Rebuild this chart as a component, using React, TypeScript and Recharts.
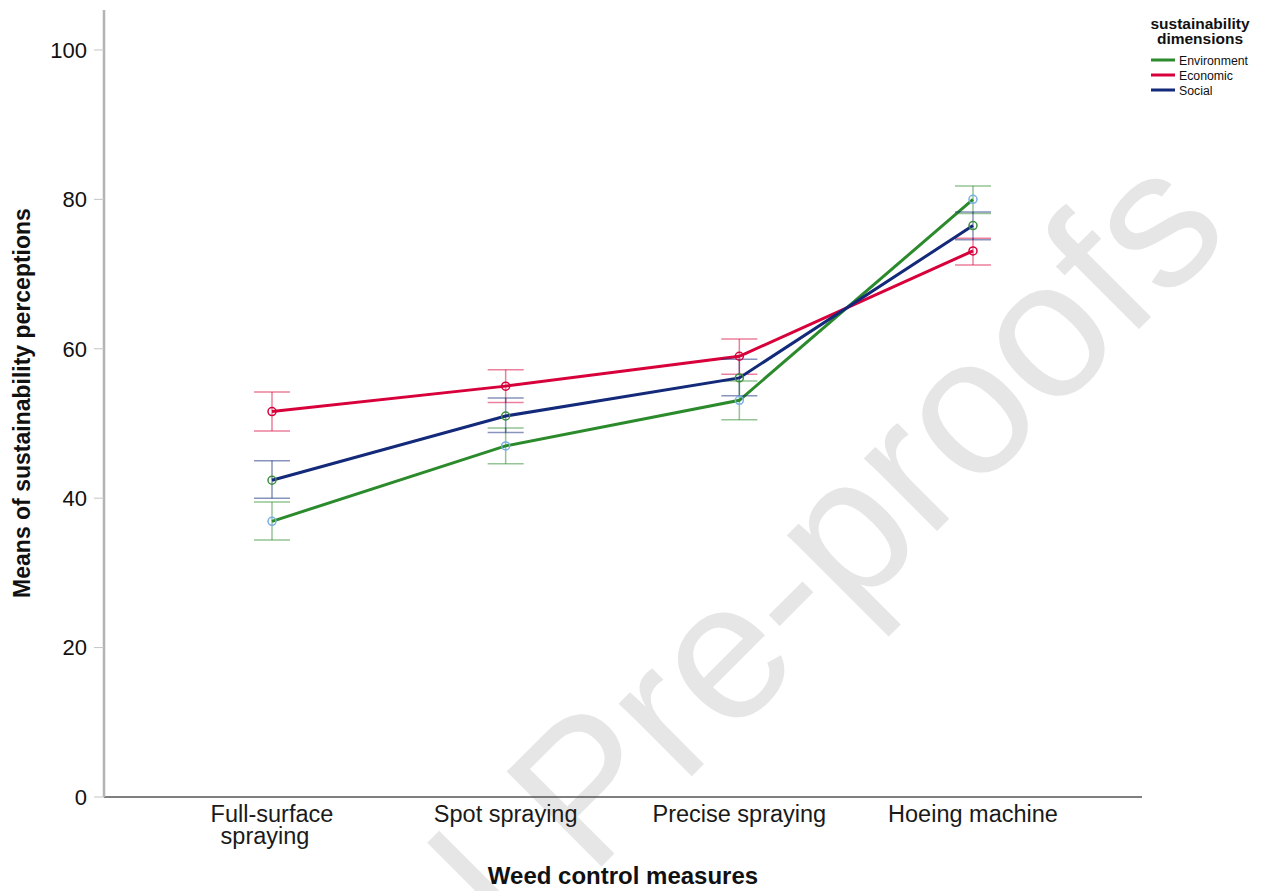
import React from 'react';
import { LineChart, Line, XAxis, YAxis, ErrorBar } from 'recharts';

const categories = ['Full-surface spraying', 'Spot spraying', 'Precise spraying', 'Hoeing machine'];
const categoryTickLines = [['Full-surface', 'spraying'], ['Spot spraying'], ['Precise spraying'], ['Hoeing machine']];

const environmentMeans = [36.9, 47.0, 53.1, 80.0];
const environmentLow = [34.4, 44.6, 50.5, 78.1];
const environmentHigh = [39.5, 49.4, 55.7, 81.8];

const economicMeans = [51.6, 55.0, 59.0, 73.1];
const economicLow = [49.0, 52.8, 56.6, 71.2];
const economicHigh = [54.2, 57.2, 61.3, 74.8];

const socialMeans = [42.4, 51.0, 56.1, 76.5];
const socialLow = [40.0, 48.8, 53.7, 74.6];
const socialHigh = [45.0, 53.4, 58.6, 78.3];

const yTicks = [0, 20, 40, 60, 80, 100];

const legendTitle = ['sustainability', 'dimensions'];
const xTitle = 'Weed control measures';
const yTitle = 'Means of sustainability perceptions';
const watermark = 'Pre-proofs';

const series = [
  { key: 'env', name: 'Environment', color: '#2b8a2b', marker: '#7aaee6', means: environmentMeans, low: environmentLow, high: environmentHigh },
  { key: 'eco', name: 'Economic', color: '#d8003a', marker: '#d8003a', means: economicMeans, low: economicLow, high: economicHigh },
  { key: 'soc', name: 'Social', color: '#13297a', marker: '#3a8f3a', means: socialMeans, low: socialLow, high: socialHigh },
];

const data = categories.map((cat, i) => {
  const row: any = { cat, idx: i };
  series.forEach((s) => {
    row[s.key] = s.means[i];
    row[s.key + 'Err'] = [+(s.means[i] - s.low[i]).toFixed(2), +(s.high[i] - s.means[i]).toFixed(2)];
  });
  return row;
});

const FONT = '"Liberation Sans", Arial, Helvetica, sans-serif';

const XTick = (props: any) => {
  const { x, y, payload } = props;
  const idx = categories.indexOf(payload.value);
  const lines = categoryTickLines[idx] || [payload.value];
  return (
    <text x={x} y={y} textAnchor="middle" fontSize={23.5} fill="#1a1a1a" fontFamily={FONT}>
      {lines.map((l, i) => (
        <tspan key={i} x={i === 0 ? x : x - 7} dy={i === 0 ? 25 : 21.5}>
          {l}
        </tspan>
      ))}
    </text>
  );
};

const makeDot = (stroke: string) => (props: any) => {
  const { cx, cy, index } = props;
  if (cx == null || cy == null) return <g key={index} />;
  return <circle key={index} cx={cx} cy={cy} r={4} fill="none" stroke={stroke} strokeWidth={1.5} />;
};

export default function App() {
  return (
    <div style={{ position: 'absolute', left: 0, top: 0, width: 1261, height: 891, background: '#fff', overflow: 'hidden' }}>
      <svg width={1261} height={891} style={{ position: 'absolute', left: 0, top: 0 }}>
        <g transform="rotate(-45 1234 234)">
          <text x={1234} y={234} textAnchor="end" fontSize={195} fontFamily={FONT} fill="#e6e6e6">
            {watermark}
          </text>
        </g>
        <g transform="rotate(-45 517 951)">
          <rect x={530} y={811} width={17} height={140} fill="#e6e6e6" />
        </g>
      </svg>
      <LineChart
        width={1261}
        height={891}
        data={data}
        margin={{ top: 10, right: 119, left: 0, bottom: 0 }}
        style={{ fontFamily: FONT }}
      >
        <XAxis
          dataKey="cat"
          type="category"
          height={94}
          padding={{ left: 168, right: 169 }}
          tickLine={false}
          tickSize={0}
          tickMargin={0}
          axisLine={{ stroke: '#555', strokeWidth: 1.5 }}
          tick={<XTick />}
          interval={0}
        />
        <YAxis
          type="number"
          width={104}
          domain={[0, 105.35]}
          ticks={yTicks}
          tickSize={10}
          tickMargin={7}
          axisLine={{ stroke: '#b3b3b3', strokeWidth: 2.5 }}
          tickLine={{ stroke: '#c4c4c4', strokeWidth: 1 }}
          tick={{ fontSize: 22, fill: '#111', fontFamily: FONT }}
          interval={0}
        />
        {series.map((s) => (
          <Line
            key={s.key}
            type="linear"
            dataKey={s.key}
            name={s.name}
            stroke={s.color}
            strokeWidth={3}
            dot={makeDot(s.marker)}
            activeDot={false}
            isAnimationActive={false}
          >
            <ErrorBar
              dataKey={s.key + 'Err'}
              direction="y"
              width={18}
              stroke={s.color}
              strokeOpacity={0.5}
              strokeWidth={1.5}
              isAnimationActive={false}
            />
          </Line>
        ))}
      </LineChart>
      <svg width={1261} height={891} style={{ position: 'absolute', left: 0, top: 0, pointerEvents: 'none' }}>
        <text x={623} y={884} textAnchor="middle" fontSize={24} fontWeight="bold" fill="#111" fontFamily={FONT}>
          {xTitle}
        </text>
        <text
          x={30}
          y={403}
          textAnchor="middle"
          fontSize={23}
          fontWeight="bold"
          fill="#111"
          fontFamily={FONT}
          transform="rotate(-90 30 403)"
        >
          {yTitle}
        </text>
        {legendTitle.map((t, i) => (
          <text key={t} x={1200} y={29 + i * 15} textAnchor="middle" fontSize={15.5} fontWeight="bold" fill="#111" fontFamily={FONT}>
            {t}
          </text>
        ))}
        {series.map((s, i) => (
          <g key={s.key}>
            <line x1={1151} x2={1175} y1={60 + i * 15} y2={60 + i * 15} stroke={s.color} strokeWidth={3} />
            <text x={1179} y={64.5 + i * 15} fontSize={12.3} fill="#111" fontFamily={FONT}>
              {s.name}
            </text>
          </g>
        ))}
      </svg>
    </div>
  );
}
